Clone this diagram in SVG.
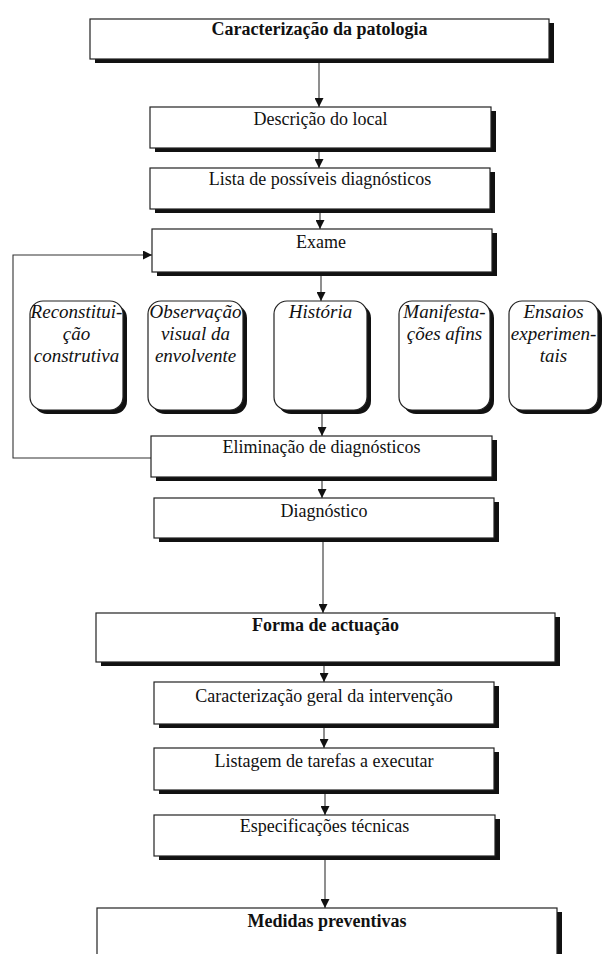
<svg xmlns="http://www.w3.org/2000/svg" width="604" height="954" viewBox="0 0 604 954">
<defs>
<marker id="ah" markerUnits="userSpaceOnUse" markerWidth="9" markerHeight="9" viewBox="0 0 10 10" refX="10" refY="5" orient="auto">
<path d="M0,0 L10,5 L0,10 z" fill="#111"/>
</marker>
<style>
.bx{fill:#fff;stroke:#222;stroke-width:1.2}
.sh{fill:#111}
.t{font-family:"Liberation Serif","Times New Roman",serif;font-size:18px;fill:#111;text-anchor:middle}
.b{font-weight:bold}
.i{font-style:italic;font-size:19px}
.c{fill:none;stroke:#333;stroke-width:1.1}
</style>
</defs>
<rect width="604" height="954" fill="#fff"/>
<g id="connectors">
<path class="c" d="M319,60 V107" marker-end="url(#ah)"/>
<path class="c" d="M319,149 V168" marker-end="url(#ah)"/>
<path class="c" d="M320,210 V229" marker-end="url(#ah)"/>
<path class="c" d="M321,273 V301" marker-end="url(#ah)"/>
<path class="c" d="M322,412 V436" marker-end="url(#ah)"/>
<path class="c" d="M322,478 V498" marker-end="url(#ah)"/>
<path class="c" d="M323,539 V613" marker-end="url(#ah)"/>
<path class="c" d="M324,663 V682" marker-end="url(#ah)"/>
<path class="c" d="M324,725 V748" marker-end="url(#ah)"/>
<path class="c" d="M325,791 V815" marker-end="url(#ah)"/>
<path class="c" d="M325,857 V908" marker-end="url(#ah)"/>
<path class="c" d="M151,458 H13 V255 H152" marker-end="url(#ah)"/>
</g>
<g id="n1">
<rect class="sh" x="95" y="23" width="459" height="40"/>
<rect class="bx" x="90" y="19" width="459" height="40"/>
<text class="t b" x="319.5" y="35">Caracterização da patologia</text>
</g>
<g id="n2">
<rect class="sh" x="155" y="111" width="341" height="41"/>
<rect class="bx" x="150" y="107" width="341" height="41"/>
<text class="t" x="320.5" y="125">Descrição do local</text>
</g>
<g id="n3">
<rect class="sh" x="155" y="172" width="340" height="41"/>
<rect class="bx" x="150" y="168" width="340" height="41"/>
<text class="t" x="320" y="185">Lista de possíveis diagnósticos</text>
</g>
<g id="n4">
<rect class="sh" x="157" y="233" width="340" height="43"/>
<rect class="bx" x="152" y="229" width="340" height="43"/>
<text class="t" x="321" y="248">Exame</text>
</g>
<g id="r1">
<rect class="sh" x="34" y="305" width="93" height="109" rx="13"/>
<rect class="bx" x="30" y="301" width="93" height="109" rx="13"/>
<text class="t i" x="76.5" y="318">Reconstitui-</text>
<text class="t i" x="76.5" y="340">ção</text>
<text class="t i" x="76.5" y="362">construtiva</text>
</g>
<g id="r2">
<rect class="sh" x="152" y="305" width="95" height="109" rx="13"/>
<rect class="bx" x="148" y="301" width="95" height="109" rx="13"/>
<text class="t i" x="195.5" y="318">Observação</text>
<text class="t i" x="195.5" y="340">visual da</text>
<text class="t i" x="195.5" y="362">envolvente</text>
</g>
<g id="r3">
<rect class="sh" x="278" y="305" width="93" height="109" rx="13"/>
<rect class="bx" x="274" y="301" width="93" height="109" rx="13"/>
<text class="t i" x="320.5" y="318">História</text>
</g>
<g id="r4">
<rect class="sh" x="403" y="305" width="91" height="109" rx="13"/>
<rect class="bx" x="399" y="301" width="91" height="109" rx="13"/>
<text class="t i" x="444.5" y="318">Manifesta-</text>
<text class="t i" x="444.5" y="340">ções afins</text>
</g>
<g id="r5">
<rect class="sh" x="513" y="305" width="89" height="109" rx="13"/>
<rect class="bx" x="509" y="301" width="89" height="109" rx="13"/>
<text class="t i" x="553.5" y="318">Ensaios</text>
<text class="t i" x="553.5" y="340">experimen-</text>
<text class="t i" x="553.5" y="362">tais</text>
</g>
<g id="n5">
<rect class="sh" x="156" y="440" width="341" height="41"/>
<rect class="bx" x="151" y="436" width="341" height="41"/>
<text class="t" x="321.5" y="453">Eliminação de diagnósticos</text>
</g>
<g id="n6">
<rect class="sh" x="159" y="502" width="340" height="40"/>
<rect class="bx" x="154" y="498" width="340" height="40"/>
<text class="t" x="324" y="517">Diagnóstico</text>
</g>
<g id="n7">
<rect class="sh" x="101" y="617" width="459" height="49"/>
<rect class="bx" x="96" y="613" width="459" height="49"/>
<text class="t b" x="325.5" y="631">Forma de actuação</text>
</g>
<g id="n8">
<rect class="sh" x="159" y="686" width="340" height="42"/>
<rect class="bx" x="154" y="682" width="340" height="42"/>
<text class="t" x="324" y="702">Caracterização geral da intervenção</text>
</g>
<g id="n9">
<rect class="sh" x="159" y="752" width="340" height="42"/>
<rect class="bx" x="154" y="748" width="340" height="42"/>
<text class="t" x="324" y="767">Listagem de tarefas a executar</text>
</g>
<g id="n10">
<rect class="sh" x="159" y="819" width="341" height="41"/>
<rect class="bx" x="154" y="815" width="341" height="41"/>
<text class="t" x="324.5" y="832">Especificações técnicas</text>
</g>
<g id="n11">
<rect class="sh" x="102" y="912" width="460" height="70"/>
<rect class="bx" x="97" y="908" width="460" height="70"/>
<text class="t b" x="327" y="927">Medidas preventivas</text>
</g>
</svg>
